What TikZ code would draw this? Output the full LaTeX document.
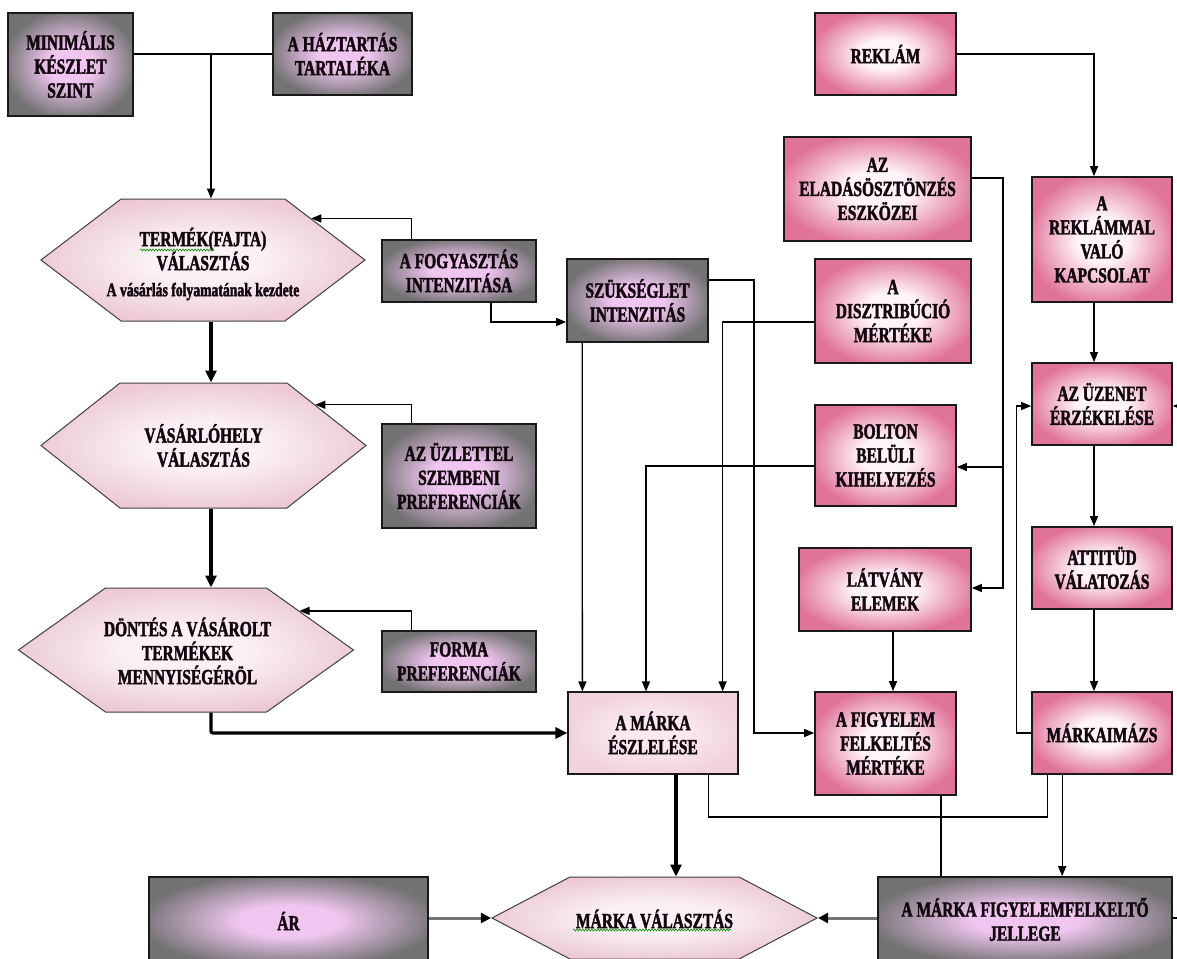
\documentclass[tikz,border=0pt]{standalone}
\usepackage{fontspec}
\setmainfont{Liberation Serif}
\newfontfamily\boxfam{Liberation Serif}[FakeStretch=0.72, BoldFeatures={FakeBold=2}]
\usetikzlibrary{shapes.symbols,arrows.meta,decorations.pathmorphing}

% fill colours
\definecolor{grayedge}{HTML}{727272}
\definecolor{grayctr}{HTML}{F0C6F0}
\definecolor{pinkedge}{HTML}{E0739A}
\definecolor{pinkctr}{HTML}{FFF4F7}
\definecolor{hexedge}{HTML}{ECC9D5}
\definecolor{hexctr}{HTML}{FBF1F4}
\definecolor{percedge}{HTML}{F2D2DD}
\definecolor{percctr}{HTML}{FAE9EF}
\definecolor{linegray}{HTML}{767676}
\definecolor{ink}{HTML}{140810}

\pgfdeclareradialshading{grayfill}{\pgfpoint{0bp}{0bp}}{color(0bp)=(grayctr); color(9bp)=(grayctr); color(27bp)=(grayedge); color(50bp)=(grayedge)}
\pgfdeclareradialshading{pinkfill}{\pgfpoint{0bp}{0bp}}{color(0bp)=(pinkctr); color(9bp)=(pinkctr); color(27bp)=(pinkedge); color(50bp)=(pinkedge)}
\pgfdeclareradialshading{hexfill}{\pgfpoint{0bp}{0bp}}{color(0bp)=(hexctr); color(9bp)=(hexctr); color(26bp)=(hexedge); color(50bp)=(hexedge)}
\pgfdeclareradialshading{percfill}{\pgfpoint{0bp}{0bp}}{color(0bp)=(percctr); color(9bp)=(percctr); color(26bp)=(percedge); color(50bp)=(percedge)}

\newcommand\boxfont{\boxfam\bfseries\fontsize{21.5}{24}\selectfont}
\newcommand\subfont{\boxfam\bfseries\fontsize{19}{20}\selectfont}

\tikzset{
  basebox/.style={draw=black!90, line width=1.7pt, align=center, font=\boxfont,
    inner sep=2pt, text=ink},
  graybox/.style={basebox, shading=grayfill},
  pinkbox/.style={basebox, shading=pinkfill},
  percbox/.style={basebox, line width=1.2pt, shading=percfill},
  hexa/.style={signal, signal to=east and west, draw=black!75, line width=1pt,
    shading=hexfill, inner sep=0pt},
  txt/.style={align=center, font=\boxfont, inner sep=0pt, text=ink},
  arr/.style={line width=1.3pt, -{Triangle[length=10pt,width=8pt]}},
  plain/.style={line width=1.3pt},
  thickarr/.style={line width=3.2pt, -{Triangle[length=12pt,width=11pt]}},
  grayarr/.style={line width=3pt, draw=linegray, -{Triangle[length=10pt,width=10pt,fill=black,color=black]}},
  squiggle/.style={draw=green!55!black, line width=0.6pt,
    decorate, decoration={snake, amplitude=1pt, segment length=3pt}},
}

\begin{document}
\begin{tikzpicture}[x=1pt,y=-1pt]
\useasboundingbox (0,0) rectangle (1177,958);
\fill[white] (0,0) rectangle (1177,958);
\clip (0,0) rectangle (1177,958);

% ---------- left column: purchase steps ----------
\node[graybox, minimum width=125pt, minimum height=103pt] (min) at (70.5,64.5) {MINIMÁLIS\\KÉSZLET\\SZINT};
\node[graybox, minimum width=139pt, minimum height=82pt] (haz) at (342.5,54) {A HÁZTARTÁS\\TARTALÉKA};

\node[hexa, minimum width=324pt, minimum height=122pt, signal pointer angle=74.6] (hex1) at (203,260) {};
\node[txt] (hex1t) at (203,264) {TERMÉK(FAJTA)\\VÁLASZTÁS\\[2pt]{\subfont A vásárlás folyamatának kezdete}};

\node[hexa, minimum width=325pt, minimum height=125pt, signal pointer angle=76.7] (hex2) at (203.5,445.5) {};
\node[txt] (hex2t) at (203.5,445.5) {VÁSÁRLÓHELY\\VÁLASZTÁS};

\node[hexa, minimum width=335pt, minimum height=124pt, signal pointer angle=71] (hex3) at (186,650) {};
\node[txt] (hex3t) at (187.5,651) {DÖNTÉS A VÁSÁROLT\\TERMÉKEK\\MENNYISÉGÉRÖL};

% ---------- influencing factors (gray) ----------
\node[graybox, minimum width=154pt, minimum height=62pt] (fogy) at (459,271) {A FOGYASZTÁS\\INTENZITÁSA};
\node[graybox, minimum width=154pt, minimum height=104pt] (uzl) at (459,476) {AZ ÜZLETTEL\\SZEMBENI\\PREFERENCIÁK};
\node[graybox, minimum width=154pt, minimum height=61pt] (forma) at (459,661.5) {FORMA\\PREFERENCIÁK};
\node[graybox, minimum width=141pt, minimum height=83pt] (szuk) at (637.5,300.5) {SZÜKSÉGLET\\INTENZITÁS};

% ---------- brand perception and choice ----------
\node[percbox, minimum width=170pt, minimum height=82pt] (esz) at (653,733) {A MÁRKA\\ÉSZLELÉSE};
\node[hexa, minimum width=325pt, minimum height=82pt, signal pointer angle=55.5] (mv) at (654.5,918) {};
\node[txt] (mvt) at (654.5,919) {MÁRKA VÁLASZTÁS};
\node[graybox, minimum width=279pt, minimum height=88pt] (ar) at (288.5,921) {ÁR};
\node[graybox, minimum width=294pt, minimum height=85pt] (jel) at (1025,919.5) {A MÁRKA FIGYELEMFELKELTŐ\\JELLEGE};

% ---------- marketing factors (pink) ----------
\node[pinkbox, minimum width=141pt, minimum height=82pt] (rek) at (885.5,54) {REKLÁM};
\node[pinkbox, minimum width=187pt, minimum height=104pt] (ela) at (877.5,189) {AZ\\ELADÁSÖSZTÖNZÉS\\ESZKÖZEI};
\node[pinkbox, minimum width=156pt, minimum height=104pt] (dis) at (893,311) {A\\DISZTRIBÚCIÓ\\MÉRTÉKE};
\node[pinkbox, minimum width=141pt, minimum height=101pt] (bol) at (885.5,455.5) {BOLTON\\BELÜLI\\KIHELYEZÉS};
\node[pinkbox, minimum width=172pt, minimum height=83pt] (lat) at (885,589.5) {LÁTVÁNY\\ELEMEK};
\node[pinkbox, minimum width=141pt, minimum height=103pt] (fig) at (885.5,743.5) {A FIGYELEM\\FELKELTÉS\\MÉRTÉKE};
\node[pinkbox, minimum width=140pt, minimum height=125pt] (rkap) at (1102,239.5) {A\\REKLÁMMAL\\VALÓ\\KAPCSOLAT};
\node[pinkbox, minimum width=140pt, minimum height=82pt] (uze) at (1102,404) {AZ ÜZENET\\ÉRZÉKELÉSE};
\node[pinkbox, minimum width=140pt, minimum height=82pt] (att) at (1102,568) {ATTITÜD\\VÁLATOZÁS};
\node[pinkbox, minimum width=140pt, minimum height=82pt] (mim) at (1102,733) {MÁRKAIMÁZS};

% spell-check underlines
\draw[squiggle] (140,250) -- (213,250);
\draw[squiggle] (573,930) -- (731,930);

% ---------- connectors ----------
\coordinate (top) at (211,54);
\draw[plain] (min.east |- haz.west) -- (haz.west);
\draw[arr] (top) -- ([xshift=8pt]hex1.north);

\draw[arr] ([xshift=30pt]fogy.north west) |- (hex1.21.4);
\draw[arr] ([xshift=30pt]uzl.north west) |- (hex2.20.2);
\draw[arr] ([xshift=30pt]forma.north west) |- (hex3.19.9);

\draw[thickarr] ([xshift=8pt]hex1.south) -- ([xshift=7.5pt]hex2.north);
\draw[thickarr] ([xshift=7.5pt]hex2.south) -- ([xshift=25pt]hex3.north);
\draw[thickarr, rounded corners=2pt] ([xshift=25pt]hex3.south) |- (esz.west);
\draw[thickarr] ([xshift=23pt]esz.south) -- ([xshift=21.5pt]mv.north);

\draw[arr] ([xshift=-46pt]fogy.south east) |- ([yshift=-21.5pt]szuk.west);
\draw[arr] ([yshift=20.5pt]szuk.east) -- ++(45,0) |- ([yshift=10.5pt]fig.west);
\draw[arr] ([xshift=16pt]szuk.south west) -- ([xshift=15pt]esz.north west);
\draw[arr] ([yshift=-11pt]dis.west) -| ([xshift=-16pt]esz.north east);
\draw[arr] ([yshift=-10.5pt]bol.west) -| ([xshift=-7pt]esz.north);

\coordinate (ej) at (1002,467);
\draw[arr] ([yshift=11pt]ela.east) -- ++(31,0) |- ([yshift=1.5pt]lat.east);
\draw[arr] (ej) -- (ej -| bol.east);

\draw[arr] (rek.east) -| ([xshift=-8pt]rkap.north);
\draw[arr] ([xshift=-8pt]rkap.south) -- ([xshift=-8pt]uze.north);
\draw[arr] ([xshift=-8pt]uze.south) -- ([xshift=-8pt]att.north);
\draw[arr] ([xshift=-8pt]att.south) -- ([xshift=-8pt]mim.north);
\draw[arr] (mim.west) -- ++(-15,0) |- ([yshift=-2pt]uze.west);

\draw[arr] ([xshift=8pt]lat.south) -- ([xshift=7.5pt]fig.north);
\draw[plain] ([xshift=-16pt]fig.south east) -- ([xshift=-16pt]fig.south east |- jel.north);
\draw[arr] ([xshift=31pt]mim.south west) -- ([xshift=31pt]mim.south west |- jel.north);
\draw[plain] ([xshift=16pt]mim.south west) -- ++(0,42) -| ([xshift=-30pt]esz.south east);

\draw[grayarr] (ar.east |- mv.west) -- (mv.west);
\draw[grayarr] (jel.west |- mv.east) -- (mv.east);

% lines continuing beyond the right margin
\coordinate (outa) at (1195,406);
\coordinate (outb) at (1195,918);
\draw[arr] (outa) -- ([yshift=-2pt]uze.east);
\draw[plain] ([yshift=1.5pt]jel.east) -- (outb);
\end{tikzpicture}
\end{document}
